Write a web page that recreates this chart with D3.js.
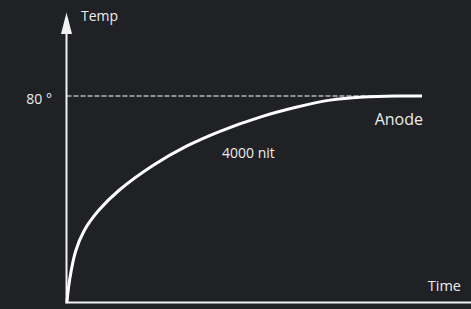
<!DOCTYPE html>
<html>
<head>
<meta charset="utf-8">
<script src="https://cdn.jsdelivr.net/npm/d3@7"></script>
<style>
  html, body { margin: 0; padding: 0; background: #1f2124; }
  svg { display: block; }
  text { font-family: "Open Sans", "Noto Sans", sans-serif; fill: #ececec; }
</style>
</head>
<body>
<div id="chart"></div>
<script>
// curve: time (0..100) vs temperature (deg)
const timeValues = [0, 0.76, 2.45, 4.79, 9.0, 14.6, 24.2, 33.8, 43.1, 54.4, 64.8, 74.1, 83.4, 93, 100];
const tempValues = [0, 8.8, 19.8, 27.6, 35.7, 43.3, 53.0, 60.6, 66.3, 71.8, 75.7, 78.4, 79.6, 80, 80];
const plateauTemp = 80;
const plateauLabel = "80 °";
const seriesLabel = "Anode";
const curveLabel = "4000 nit";
const xAxisTitle = "Time";
const yAxisTitle = "Temp";

const width = 471, height = 309;

const svg = d3.select("#chart").append("svg")
  .attr("width", width)
  .attr("height", height);

svg.append("rect").attr("width", width).attr("height", height).attr("fill", "#1f2124");

const x = d3.scaleLinear().domain([0, 100]).range([67, 422]);
const y = d3.scaleLinear().domain([0, 80]).range([302, 96]);

const axisX = 66.5;
const axisY = 302.5;

// dashed reference line at plateau
svg.append("line")
  .attr("x1", axisX).attr("x2", x(100))
  .attr("y1", y(plateauTemp)).attr("y2", y(plateauTemp))
  .attr("stroke", "#b4b4b4")
  .attr("stroke-width", 1.5)
  .attr("stroke-dasharray", "5,2");

// axes
svg.append("line")
  .attr("x1", axisX).attr("x2", axisX)
  .attr("y1", axisY + 1).attr("y2", 30)
  .attr("stroke", "#f2f2f2").attr("stroke-width", 2);
svg.append("path")
  .attr("d", `M${axisX},12.5 L${axisX - 5.5},34 L${axisX + 5.5},34 Z`)
  .attr("fill", "#f2f2f2");
svg.append("line")
  .attr("x1", axisX - 1).attr("x2", width)
  .attr("y1", axisY).attr("y2", axisY)
  .attr("stroke", "#f2f2f2").attr("stroke-width", 2);

// the curve
const pts = timeValues.map((t, i) => [t, tempValues[i]]);
const line = d3.line()
  .x(d => x(d[0]))
  .y(d => y(d[1]))
  .curve(d3.curveCatmullRom.alpha(0.5));

svg.append("path")
  .datum(pts)
  .attr("d", line)
  .attr("fill", "none")
  .attr("stroke", "#ffffff")
  .attr("stroke-width", 3);

// labels
svg.append("text").attr("x", 81).attr("y", 21).style("font-size", "14px").text(yAxisTitle);
svg.append("text").attr("x", 461).attr("y", 291).attr("text-anchor", "end").style("font-size", "14.5px").text(xAxisTitle);
svg.append("text").attr("x", 52).attr("y", y(plateauTemp) + 8).attr("text-anchor", "end").style("font-size", "14px").text(plateauLabel);
svg.append("text").attr("x", 423).attr("y", 125).attr("text-anchor", "end").style("font-size", "16px").text(seriesLabel);
svg.append("text").attr("x", 222).attr("y", 158).style("font-size", "14px").text(curveLabel);
</script>
</body>
</html>
